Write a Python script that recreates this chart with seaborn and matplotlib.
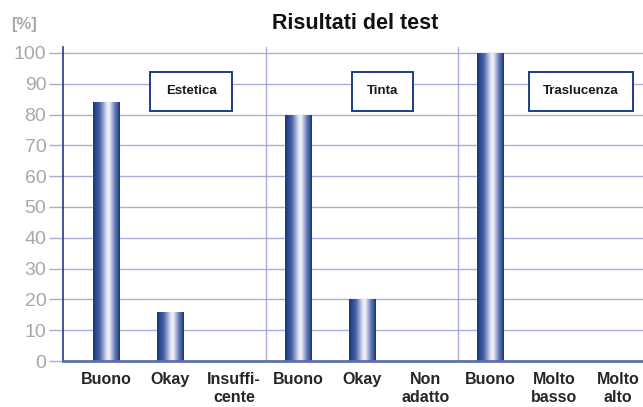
import numpy as np
import pandas as pd
import matplotlib
matplotlib.use("Agg")
import matplotlib.pyplot as plt
from matplotlib.colors import LinearSegmentedColormap
from matplotlib.patches import Rectangle
import seaborn as sns

# dati
gruppi = ["Estetica", "Tinta", "Traslucenza"]
etichette = ["Buono", "Okay", "Insuffi-\ncente",
             "Buono", "Okay", "Non\nadatto",
             "Buono", "Molto\nbasso", "Molto\nalto"]
valori = [84, 16, 0, 80, 20, 0, 100, 0, 0]
gruppo_di = ["Estetica"] * 3 + ["Tinta"] * 3 + ["Traslucenza"] * 3

df = pd.DataFrame({
    "chiave": [f"{g}|{e}" for g, e in zip(gruppo_di, etichette)],
    "valore": valori,
})

sns.set_style("white")
plt.rcParams["font.family"] = ["Liberation Sans Narrow", "Liberation Sans", "DejaVu Sans"]

griglia = "#a9add6"
blu = "#1b3d8a"

fig = plt.figure(figsize=(6.43, 4.07), dpi=100)
ax = fig.add_axes([0.098, 0.113, 0.902, 0.772])

sns.barplot(data=df, x="chiave", y="valore", order=df["chiave"], color=blu,
            width=0.41, ax=ax, zorder=3)

# sfumatura orizzontale sulle barre
cmap = LinearSegmentedColormap.from_list("barra", [
    (0.0, "#153884"), (0.25, "#4a62a5"), (0.5, "#dde0ee"),
    (0.6, "#f4f4fa"), (0.78, "#7f8ec2"), (1.0, "#153884")])
grad = np.linspace(0, 1, 64).reshape(1, -1)
for p in ax.patches:
    if p.get_height() <= 0:
        continue
    x0, y0 = p.get_x(), p.get_y()
    im = ax.imshow(grad, cmap=cmap, aspect="auto", zorder=4,
                   extent=[x0, x0 + p.get_width(), y0, y0 + p.get_height()])
    im.set_clip_path(p)

ax.set_xlim(-0.67, 8.39)
ax.set_ylim(0, 102)
ax.set_yticks(range(0, 101, 10))
ax.set_xticks(range(len(etichette)))
ax.set_xticklabels(etichette, fontsize=11.5, fontweight="bold", linespacing=1.2,
                   va="top")
ax.set_xlabel("")
ax.set_ylabel("")

ax.yaxis.grid(True, color=griglia, lw=1.0, zorder=0)
ax.tick_params(axis="y", length=10, color=griglia, width=1.0,
               labelsize=14, labelcolor="#a8a8a8", pad=2, left=True)
ax.tick_params(axis="x", length=0, pad=8)

for s in ["top", "right"]:
    ax.spines[s].set_visible(False)
ax.spines["left"].set_color(blu)
ax.spines["left"].set_linewidth(1.2)
ax.spines["bottom"].set_color("#5d6fb0")
ax.spines["bottom"].set_linewidth(2.0)
ax.spines["bottom"].set_zorder(5)

# separatori tra i gruppi
for xs in [2.5, 5.5]:
    ax.axvline(xs, color=griglia, lw=1.0, zorder=1)

# riquadri dei gruppi
centri = [1.33, 4.32, 7.42]
larghezze = [1.28, 0.95, 1.62]
for g, c, w in zip(gruppi, centri, larghezze):
    ax.add_patch(Rectangle((c - w / 2, 81.2), w, 12.6, facecolor="white",
                           edgecolor=blu, lw=1.4, zorder=6))
    ax.text(c, 87.5, g, ha="center", va="center", fontsize=9.5,
            fontweight="bold", color="#1a1a1a", zorder=7)

fig.text(0.553, 0.943, "Risultati del test", ha="center", va="center",
         fontsize=15.5, fontweight="bold", color="#111111")
fig.text(0.017, 0.94, "[%]", ha="left", va="center", fontsize=12,
         fontweight="bold", color="#a8a8a8")

fig.savefig("out.png", dpi=100)
